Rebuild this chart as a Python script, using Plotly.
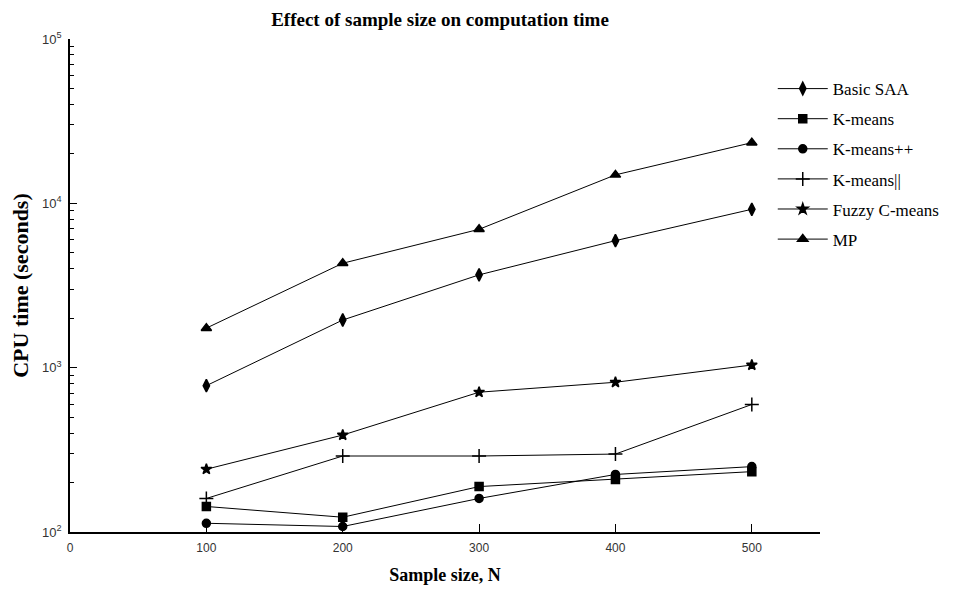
import plotly.graph_objects as go

sample_sizes = [100, 200, 300, 400, 500]
basic_saa = [777, 1950, 3670, 5930, 9200]
kmeans = [143, 123, 189, 209, 233]
kmeans_pp = [113, 108, 160, 224, 250]
kmeans_par = [160, 290, 290, 298, 597]
fuzzy_cmeans = [241, 389, 709, 815, 1038]
mp = [1740, 4320, 6950, 14900, 23400]

series = [
    ("Basic SAA", basic_saa, "diamond-tall", 9),
    ("K-means", kmeans, "square", 8),
    ("K-means++", kmeans_pp, "circle", 8),
    ("K-means||", kmeans_par, "cross-thin", 10),
    ("Fuzzy C-means", fuzzy_cmeans, "star", 8),
    ("MP", mp, "triangle-up", 9),
]

x_ticks = [0, 100, 200, 300, 400, 500]
y_tickvals = [100, 1000, 10000, 100000]
y_ticktext = ["10<sup>2</sup>", "10<sup>3</sup>", "10<sup>4</sup>", "10<sup>5</sup>"]
y_minor = [m * 10 ** e for e in (2, 3, 4) for m in range(2, 10)]

fig = go.Figure()
for i, (name, vals, sym, sz) in enumerate(series):
    fig.add_trace(go.Scatter(
        x=sample_sizes, y=vals, name=name, mode="lines+markers",
        legendgroup=f"g{i}",
        line=dict(color="black", width=1),
        marker=dict(symbol=sym, size=sz, color="black",
                    line=dict(color="black", width=1.5)),
    ))

serif = "Liberation Serif"
# page body has an 8px margin, so the figure starts at (8, 8)
W, H = 946, 584
fig.update_layout(
    width=W, height=H,
    margin=dict(l=62, r=134, t=31, b=60, autoexpand=False),
    plot_bgcolor="white", paper_bgcolor="white",
    title=dict(text="<b>Effect of sample size on computation time</b>",
               x=(440 - 8) / W, xanchor="center", y=1 - 11 / H, yanchor="middle",
               font=dict(family=serif, size=19, color="black")),
    showlegend=True,
    legend=dict(x=0.937, y=0.935, xanchor="left", yanchor="top",
                font=dict(family=serif, size=17, color="black"),
                bgcolor="rgba(255,255,255,0)", itemwidth=50,
                tracegroupgap=5),
)
fig.update_xaxes(
    range=[0, 550], tickvals=x_ticks, showgrid=False, zeroline=False,
    showline=True, linecolor="black", linewidth=1.5,
    ticks="inside", ticklen=8, tickcolor="black", automargin=False,
    ticklabelstandoff=4,
    tickfont=dict(family="Liberation Sans", size=12, color="#333"),
    title=dict(text="<b>Sample size, N</b>", standoff=14,
               font=dict(family=serif, size=18, color="black")),
)
fig.update_yaxes(
    type="log", range=[2, 5], tickvals=y_tickvals, ticktext=y_ticktext,
    showgrid=False, zeroline=False, automargin=False,
    showline=True, linecolor="black", linewidth=1.5,
    ticks="inside", ticklen=7, tickcolor="black",
    ticklabelstandoff=4,
    minor=dict(tickvals=y_minor, ticks="inside", ticklen=4,
               tickcolor="black", showgrid=False),
    tickfont=dict(family="Liberation Sans", size=13, color="#333"),
    title=dict(text="<b>CPU time (seconds)</b>", standoff=10,
               font=dict(family=serif, size=22, color="black")),
)

fig.write_html("out.html")
